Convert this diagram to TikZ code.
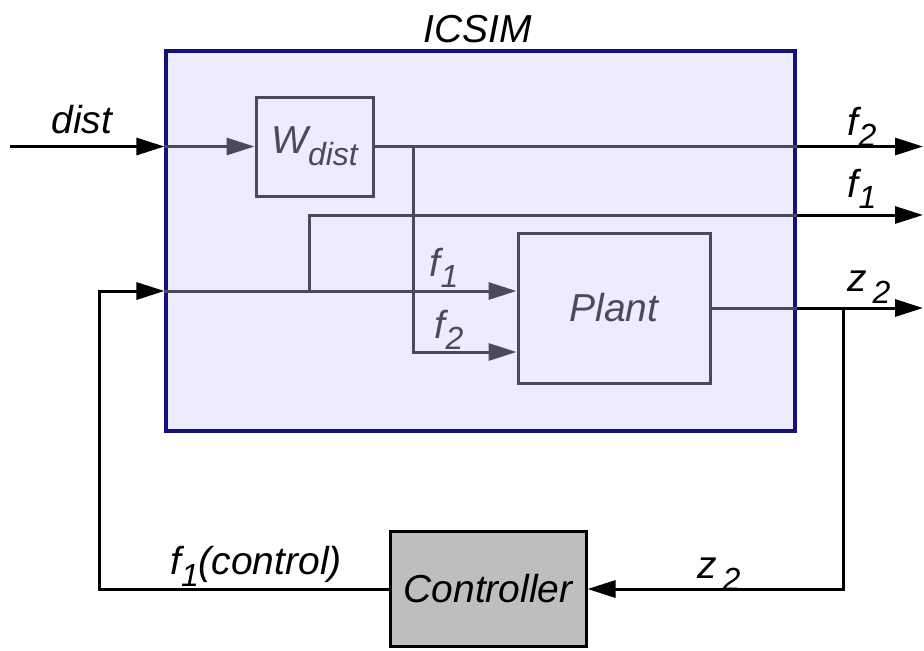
\documentclass[tikz,border=0pt]{standalone}
\usepackage{fontspec}
\setmainfont{Liberation Sans}
\usetikzlibrary{arrows.meta,calc,positioning}
\definecolor{SimFill}{HTML}{ECECFC}
\definecolor{SimEdge}{HTML}{12127A}
\definecolor{SimWire}{HTML}{4A4A5C}
\definecolor{CtrlFill}{HTML}{BEBEBE}
\newcommand{\sigsub}[2]{#1\raisebox{-0.3em}{\fontsize{16}{16}\selectfont #2}}

\begin{document}
\begin{tikzpicture}[x=0.5pt,y=-0.5pt,
          >={Triangle[length=14pt,width=8.5pt]},
          wire/.style={line width=1.5pt,draw=SimWire},
          ext/.style={line width=1.5pt,draw=black},
          sim/.style={draw=SimEdge,fill=SimFill,line width=1.6pt,
            minimum width=314.5pt,minimum height=190pt,inner sep=0pt},
          block/.style={draw=SimWire,line width=1.5pt,inner sep=0pt,
            font=\fontsize{19.5}{22}\selectfont\itshape,text=SimWire},
          ctrlbox/.style={draw=black,fill=CtrlFill,line width=1.5pt,inner sep=0pt,
            minimum width=98pt,minimum height=57.5pt,
            font=\fontsize{19.5}{22}\selectfont\itshape},
          lbl/.style={font=\fontsize{19.5}{22}\selectfont\itshape},
          inlbl/.style={lbl,text=SimWire}
        ]
        \path[use as bounding box] (0,0) rectangle (924,650);
        \node[sim] (icsim) at (480.5,241) {};
        \node[lbl] (icsimlbl) at (478,29) {ICSIM};
        \node[block,minimum width=58.5pt,minimum height=49.5pt] (wdist) at (314.5,146.5)
          {\sigsub{W}{dist}};
        \node[block,minimum width=96pt,minimum height=75pt] (plant) at (614,308) {Plant};
        \node[ctrlbox] (ctrl) at (488,589) {Controller};

        \coordinate (distsrc) at (10,146.5);
        \coordinate (f2end) at (923,146.5);
        \coordinate (f1end) at (923,215);
        \coordinate (z2end) at (923,308);
        \coordinate (tapw) at (413,146.5);
        \coordinate (fbleft) at (99,291);
        \coordinate (f1in) at (fbleft -| icsim.west);
        \coordinate (tapf1) at (309,291);
        \coordinate (f1up) at (309,215);
        \coordinate (tapz2) at (843,308);

        \draw[ext,->] (distsrc) -- (distsrc -| icsim.west);
        \draw[wire,->] (distsrc -| icsim.west) -- (wdist.west);
        \draw[wire] (wdist.east) -- (wdist.east -| icsim.east);
        \draw[ext,->] (wdist.east -| icsim.east) -- (f2end);
        \draw[wire,->] (tapw) |- ($(plant.west)+(0,44)$);

        \draw[ext,->] (ctrl.west) -| (fbleft) -- (f1in);
        \draw[wire,->] (f1in) -- ($(plant.west)+(0,-17)$);
        \draw[wire] (tapf1) -- (f1up) -- (f1up -| icsim.east);
        \draw[ext,->] (f1up -| icsim.east) -- (f1end);

        \draw[wire] (plant.east) -- (plant.east -| icsim.east);
        \draw[ext,->] (plant.east -| icsim.east) -- (z2end);
        \draw[ext,->] (tapz2) |- (ctrl.east);

        \node[lbl] (distlbl) at (82,120) {dist};
        \node[lbl] (f2outlbl) at (862,127) {\sigsub{f}{2}};
        \node[lbl] (f1outlbl) at (862,189) {\sigsub{f}{1}};
        \node[lbl] (z2outlbl) at (869,287) {\sigsub{z}{\,2}};
        \node[inlbl] (f1inlbl) at (444,268) {\sigsub{f}{1}};
        \node[inlbl] (f2inlbl) at (449,330) {\sigsub{f}{2}};
        \node[lbl] (z2fblbl) at (719,574) {\sigsub{z}{\,2}};
        \node[lbl] (ctrllbl) at (256,566) {\sigsub{f}{1}(control)};
      \end{tikzpicture}
\end{document}
